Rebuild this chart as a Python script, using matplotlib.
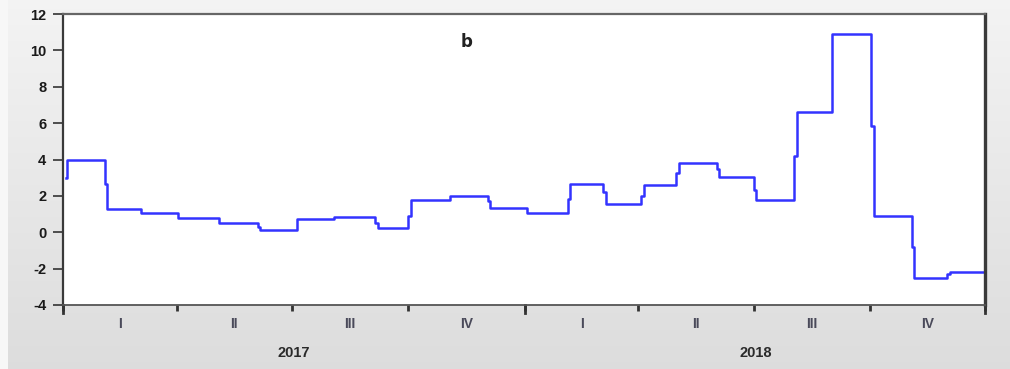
import numpy as np
import pandas as pd
import matplotlib
matplotlib.use("Agg")
import matplotlib.pyplot as plt
import matplotlib.transforms as mtransforms

plt.rcParams["axes.unicode_minus"] = False

# dates where the series changes level, and the level from that date on
change_dates = [
    "2017-01-03", "2017-01-04", "2017-02-03", "2017-02-05", "2017-03-04",
    "2017-04-02", "2017-05-04", "2017-06-04", "2017-06-06", "2017-07-05",
    "2017-08-03", "2017-09-05", "2017-09-07", "2017-10-01", "2017-10-03",
    "2017-11-03", "2017-12-03", "2017-12-05", "2018-01-03", "2018-02-04",
    "2018-02-06", "2018-03-04", "2018-03-06", "2018-04-03", "2018-04-05",
    "2018-05-01", "2018-05-03", "2018-06-02", "2018-06-04", "2018-07-01",
    "2018-07-03", "2018-08-02", "2018-08-04", "2018-09-01", "2018-10-02",
    "2018-10-04", "2018-11-03", "2018-11-05", "2018-12-01", "2018-12-03",
    "2018-12-30",
]
levels = [
    3.0, 4.0, 2.65, 1.30, 1.05,
    0.80, 0.51, 0.30, 0.12, 0.71,
    0.84, 0.50, 0.25, 0.90, 1.75,
    2.00, 1.70, 1.35, 1.05, 1.85,
    2.68, 2.20, 1.56, 2.00, 2.62,
    3.25, 3.80, 3.50, 3.06, 2.35,
    1.75, 4.20, 6.60, 10.88, 5.85,
    0.90, -0.80, -2.50, -2.30, -2.20,
    -2.20,
]

quarter_names = ["I", "II", "III", "IV"]
years = [2017, 2018]
title = "b"

dates = pd.to_datetime(change_dates)

fig = plt.figure(figsize=(10.10, 3.69), dpi=100)

# soft grey gradient behind everything
bg = fig.add_axes([0, 0, 1, 1], zorder=-10)
grad = np.linspace(0.955, 0.865, 256).reshape(-1, 1)
bg.imshow(np.dstack([grad, grad, grad]), aspect="auto", extent=[0, 1, 0, 1])
bg.axvspan(0, 8 / 1010, color="#f7f7f7", lw=0)
bg.set_xlim(0, 1)
bg.set_ylim(0, 1)
bg.axis("off")

ax = fig.add_axes([63 / 1010, 64 / 369, 922 / 1010, 291 / 369])
ax.set_facecolor("white")
ax.plot(dates, levels, drawstyle="steps-post", color="#3333ff", lw=1.8)

start = pd.Timestamp("2017-01-01")
end = pd.Timestamp("2018-12-31")
ax.set_xlim(start, end)
ax.set_ylim(-4, 12)
ax.set_yticks(np.arange(-4, 13, 2))

for side in ["left", "top", "bottom", "right"]:
    ax.spines[side].set_color("#3a3a3a")
ax.spines["left"].set_linewidth(1.6)
ax.spines["right"].set_linewidth(2.4)
ax.spines["top"].set_linewidth(1.6)
ax.spines["top"].set_color("#666666")
ax.spines["bottom"].set_linewidth(1.3)
ax.spines["bottom"].set_color("#555555")

ax.tick_params(axis="y", direction="out", length=7, width=1.2, color="#333333",
               labelsize=10.5, labelcolor="#1a1a1a", pad=5)
for lab in ax.get_yticklabels():
    lab.set_fontweight("bold")
    lab.set_fontfamily("Liberation Sans")

# quarter boundaries as major ticks, quarter names centred between them
qstarts = pd.DatetimeIndex(list(pd.date_range(start, periods=8, freq="QS")) + [end])
ax.set_xticks(qstarts)
ax.set_xticklabels([])
ax.tick_params(axis="x", which="major", direction="out", length=4, width=2,
               color="#333333")
mids = [qstarts[i] + (qstarts[i + 1] - qstarts[i]) / 2 for i in range(8)]
ax.set_xticks(mids, minor=True)
ax.set_xticklabels(quarter_names * 2, minor=True, fontsize=10,
                   fontweight="bold", color="#4a4a5a", family="Liberation Sans")
ax.tick_params(axis="x", which="minor", length=0, pad=9)

# longer marks at the ends and the year change
trans = mtransforms.blended_transform_factory(ax.transData, ax.transAxes)
for d in [start, pd.Timestamp("2018-01-01"), end]:
    ax.plot([d, d], [0, -0.028], transform=trans, color="#333333", lw=2,
            clip_on=False)

for y in years:
    y0 = pd.Timestamp(f"{y}-01-01")
    y1 = pd.Timestamp(f"{y + 1}-01-01")
    ax.text(y0 + (y1 - y0) / 2, -0.165, str(y), transform=trans, ha="center",
            va="center", fontsize=10.5, fontweight="bold", color="#2a2a2a",
            family="Liberation Sans")

ax.text(0.438, 0.905, title, transform=ax.transAxes, ha="center", va="center",
        fontsize=12, fontweight="bold", color="#222222")

fig.savefig("out.png", dpi=100)
